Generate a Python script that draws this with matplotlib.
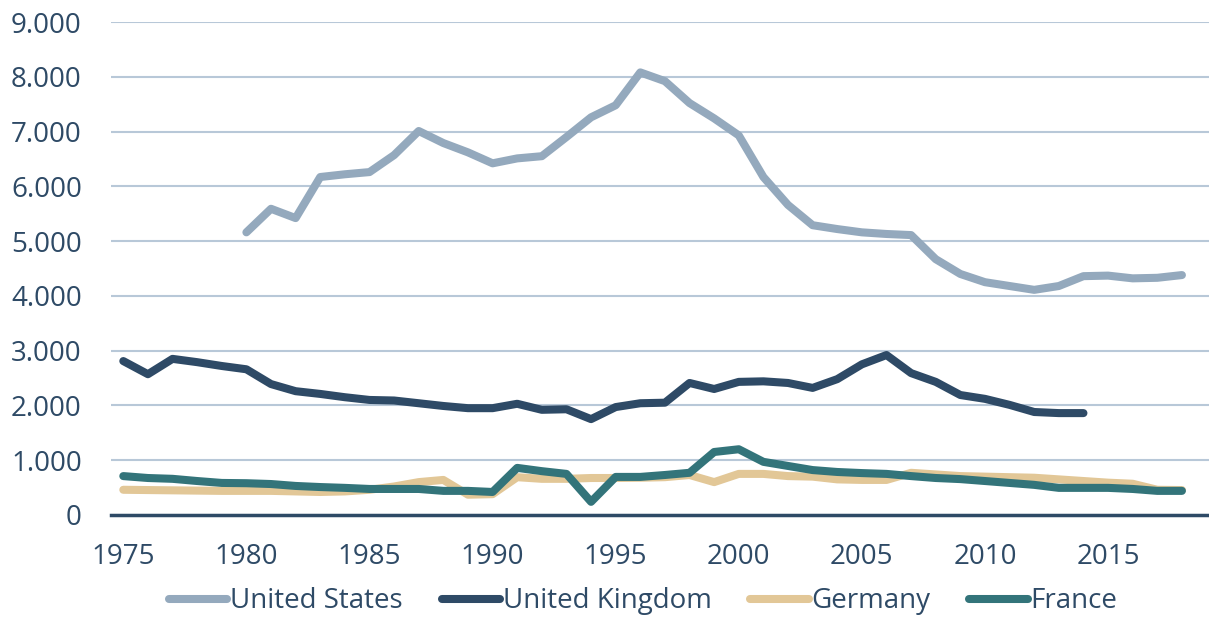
import matplotlib.pyplot as plt
from matplotlib.ticker import FuncFormatter

plt.rcParams['font.family'] = ['Open Sans', 'DejaVu Sans']

years = list(range(1975, 2019))

us_years = list(range(1980, 2019))
us = [5160, 5590, 5420, 6170, 6220, 6260, 6570, 7010, 6790, 6620,
      6420, 6510, 6550, 6900, 7260, 7480, 8080, 7920, 7520, 7240,
      6930, 6170, 5660, 5290, 5220, 5160, 5130, 5110, 4670, 4400,
      4250, 4180, 4110, 4180, 4360, 4370, 4320, 4330, 4380]

uk_years = list(range(1975, 2015))
uk = [2810, 2570, 2850, 2790, 2720, 2660, 2390, 2260, 2210, 2150,
      2100, 2090, 2040, 1990, 1950, 1950, 2030, 1920, 1930, 1750,
      1970, 2040, 2050, 2410, 2300, 2430, 2440, 2410, 2320, 2480,
      2750, 2920, 2590, 2430, 2190, 2120, 2010, 1880, 1860, 1860]

germany = [460, 455, 450, 445, 440, 440, 440, 430, 420, 430,
           460, 520, 600, 640, 370, 380, 690, 660, 660, 675,
           675, 680, 690, 730, 600, 750, 750, 710, 700, 650,
           640, 640, 770, 740, 710, 700, 690, 680, 650, 620,
           590, 570, 460, 455]

france = [710, 675, 660, 620, 585, 580, 565, 530, 510, 495,
          475, 475, 475, 440, 440, 420, 860, 800, 750, 240,
          695, 695, 730, 770, 1150, 1200, 970, 895, 820, 785,
          765, 750, 710, 675, 655, 620, 585, 550, 495, 495,
          495, 475, 440, 440]

labels = ["United States", "United Kingdom", "Germany", "France"]
colours = ['#94a9bd', '#2e4a66', '#e2c797', '#33747a']
text_col = '#2e4a66'

fig = plt.figure(figsize=(12.09, 6.18), dpi=100)
ax = fig.add_axes([0.0918, 0.1667, 0.9082, 0.7977])

lw = 5.8
ax.plot(us_years, us, color=colours[0], lw=lw, label=labels[0], solid_capstyle='round', zorder=3)
ax.plot(uk_years, uk, color=colours[1], lw=lw, label=labels[1], solid_capstyle='round', zorder=3)
ax.plot(years, germany, color=colours[2], lw=lw, label=labels[2], solid_capstyle='round', zorder=3)
ax.plot(years, france, color=colours[3], lw=lw, label=labels[3], solid_capstyle='round', zorder=4)

ax.set_xlim(1974.5, 2019.1)
ax.set_ylim(0, 9000)
ax.set_yticks(range(0, 9001, 1000))
ax.set_xticks(range(1975, 2016, 5))
ax.yaxis.set_major_formatter(FuncFormatter(lambda v, p: f"{int(v):,}".replace(",", ".")))
ax.grid(axis='y', color='#b8c8d8', lw=1.5)
ax.set_axisbelow(True)
for s in ['top', 'right', 'left']:
    ax.spines[s].set_visible(False)
ax.spines['bottom'].set_color(text_col)
ax.spines['bottom'].set_linewidth(2.5)
ax.tick_params(length=0, labelsize=20, colors=text_col)
ax.tick_params(axis='x', pad=20)
ax.tick_params(axis='y', pad=21)

fig.legend(loc='center', bbox_to_anchor=(0.532, 0.027), ncol=4, frameon=False,
           fontsize=20, labelcolor=text_col, handlelength=2.1, handletextpad=0.1,
           columnspacing=1.4)

fig.savefig("out.png", dpi=100)
